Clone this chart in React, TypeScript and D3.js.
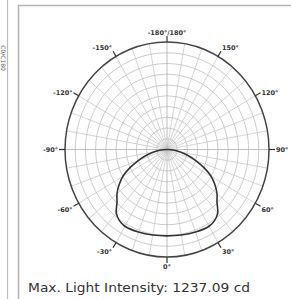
import React, { useEffect, useRef } from "react";
import * as d3 from "d3";

// light distribution (cd) at angles from nadir, symmetric both sides
const angles = [0, 10, 20, 30, 35, 40, 45, 50, 55, 60, 65, 70, 75, 80, 85, 90];
const intensity = [1205, 1212, 1226, 1237, 1215, 1160, 1040, 960, 860, 750, 600, 450, 320, 200, 110, 0];
const tickAngles = [-150, -120, -90, -60, -30, 0, 30, 60, 90, 120, 150, 180];
const tickLabels = ["-150°", "-120°", "-90°", "-60°", "-30°", "0°", "30°", "60°", "90°", "120°", "150°", "-180°/180°"];
const maxValue = 1500;
const ringCount = 10;
const caption = "Max. Light Intensity: 1237.09 cd";

const W = 291;
const H = 299;

export default function App() {
  const ref = useRef<SVGSVGElement>(null);

  useEffect(() => {
    const svg = d3.select(ref.current);
    svg.selectAll("*").remove();

    const cx = 167;
    const cy = 149.5;
    const rx = 102;
    const ry = 107.5;

    const r = d3.scaleLinear().domain([0, maxValue]).range([0, 1]);
    const pt = (deg: number, f: number) => {
      const a = (deg * Math.PI) / 180;
      return [cx + f * rx * Math.sin(a), cy + f * ry * Math.cos(a)] as [number, number];
    };

    // side panel fragment + main panel frame
    svg.append("line").attr("x1", 7.5).attr("x2", 7.5).attr("y1", 0).attr("y2", H)
      .attr("stroke", "#bbb").attr("stroke-width", 1.2);
    svg.append("text")
      .attr("transform", "translate(1,58) rotate(90)")
      .attr("text-anchor", "middle")
      .attr("font-family", "DejaVu Sans")
      .attr("font-size", 6)
      .attr("fill", "#555")
      .text("C0/C180");
    svg.append("rect")
      .attr("x", 18.5).attr("y", 5.5).attr("width", W).attr("height", H)
      .attr("fill", "#fff").attr("stroke", "#b5b5b5").attr("stroke-width", 1.5);

    const g = svg.append("g");

    // rings
    const rings = d3.range(1, ringCount).map((i) => (i * maxValue) / ringCount);
    g.selectAll("ellipse.ring")
      .data(rings)
      .join("ellipse")
      .attr("cx", cx).attr("cy", cy)
      .attr("rx", (d) => r(d) * rx).attr("ry", (d) => r(d) * ry)
      .attr("fill", "none").attr("stroke", "#bfbfbf").attr("stroke-width", 0.8);

    // radial lines
    g.selectAll("line.spoke")
      .data(d3.range(0, 360, 10))
      .join("line")
      .attr("x1", cx).attr("y1", cy)
      .attr("x2", (d) => pt(d, 1)[0]).attr("y2", (d) => pt(d, 1)[1])
      .attr("stroke", (d) => (d % 90 === 0 ? "#aaa" : "#c6c6c6"))
      .attr("stroke-width", 0.75);

    // outer circle
    g.append("ellipse")
      .attr("cx", cx).attr("cy", cy).attr("rx", rx).attr("ry", ry)
      .attr("fill", "none").attr("stroke", "#444").attr("stroke-width", 1.5);

    // ticks + labels
    tickAngles.forEach((a, i) => {
      const p0 = pt(a, 1);
      const s = Math.sin((a * Math.PI) / 180);
      const c = Math.cos((a * Math.PI) / 180);
      const p1 = [p0[0] + s * 6, p0[1] + c * 6];
      g.append("line")
        .attr("x1", p0[0]).attr("y1", p0[1]).attr("x2", p1[0]).attr("y2", p1[1])
        .attr("stroke", "#333").attr("stroke-width", 1.2);
      const anchor = s > 0.3 ? "start" : s < -0.3 ? "end" : "middle";
      const lx = p1[0] + (anchor === "start" ? 1 : anchor === "end" ? -1 : 0);
      const ly = p1[1] + (c < -0.5 ? -1 : c > 0.5 ? 6 : 2.5);
      g.append("text")
        .attr("x", lx).attr("y", ly)
        .attr("text-anchor", anchor)
        .attr("font-family", "DejaVu Sans")
        .attr("font-weight", "bold")
        .attr("font-size", 6.5)
        .attr("fill", "#333")
        .text(tickLabels[i]);
    });

    // curve, mirrored on both sides, meeting once at the centre
    const right = angles.map((a, i) => pt(a, r(intensity[i])));
    const left = angles.slice(1, -1).map((a, i) => pt(-a, r(intensity[i + 1]))).reverse();
    const pts = [...left, ...right];
    const line = d3.line().curve(d3.curveCatmullRomClosed.alpha(0.5));
    g.append("path")
      .attr("d", line(pts))
      .attr("fill", "none").attr("stroke", "#333").attr("stroke-width", 1.6);

    svg.append("text")
      .attr("x", 28).attr("y", 292)
      .attr("font-family", "DejaVu Sans")
      .attr("font-size", 11.5)
      .attr("fill", "#333")
      .attr("textLength", 222)
      .attr("lengthAdjust", "spacingAndGlyphs")
      .text(caption);
  }, []);

  return (
    <svg
      ref={ref}
      width={W}
      height={H}
      style={{ position: "absolute", left: 0, top: 0, background: "#fff" }}
    />
  );
}
